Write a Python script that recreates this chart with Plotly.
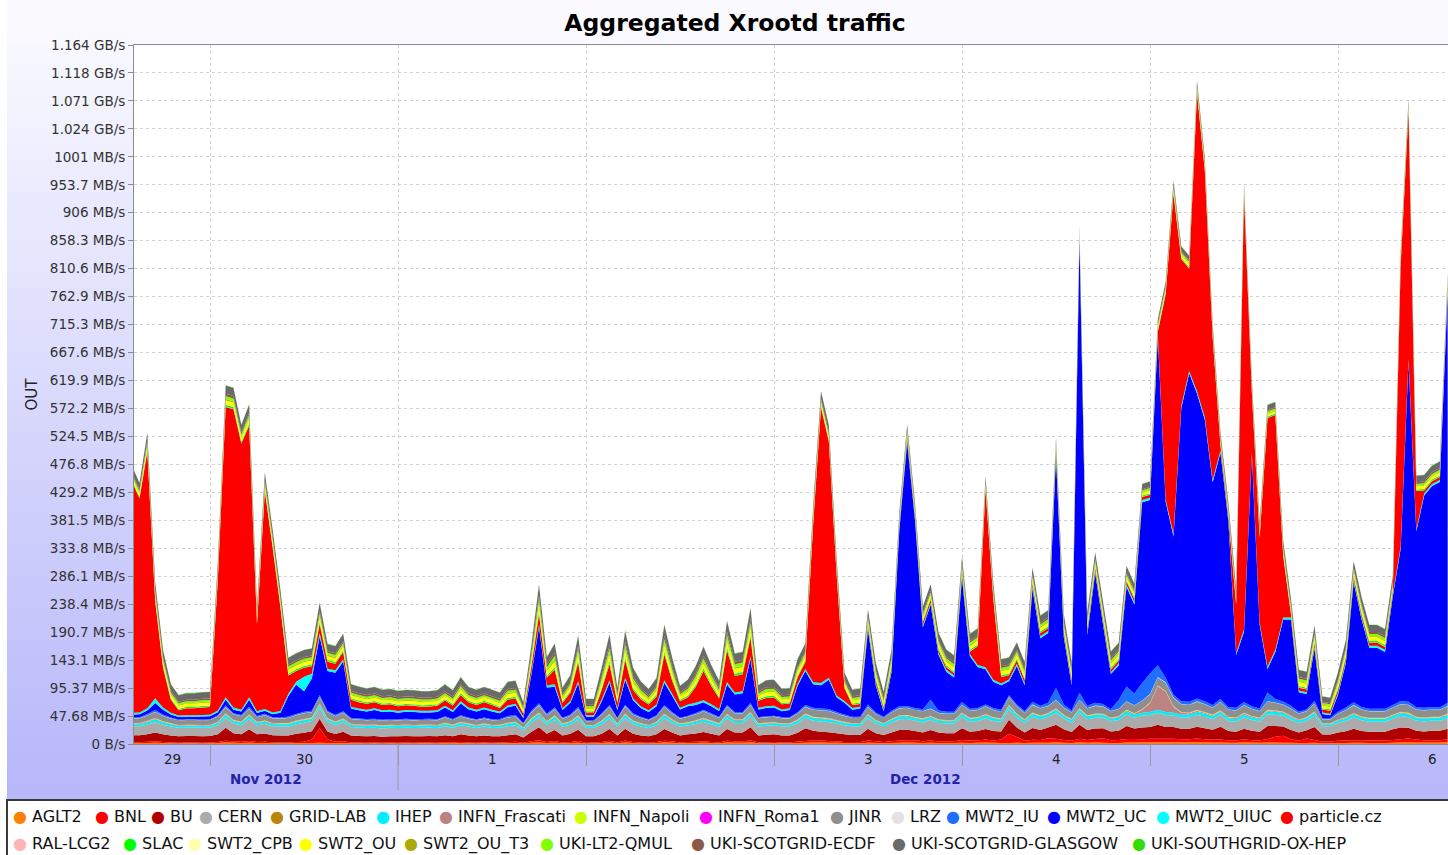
import pandas as pd
import plotly.graph_objects as go

# ---------------- data (MB/s, hourly from 2012-11-29 14:00) ----------------
times = pd.date_range("2012-11-29 14:00", periods=169, freq="h")

AGLT2 = [1.2,1.5,1.8,2.0,1.5,1.2,1.0,1.2,1.2,1.0,1.2,1.5,
 2.5,2.0,1.8,2.2,1.5,1.8,1.5,1.2,1.2,1.5,1.5,1.8,
 2.0,1.5,1.5,1.8,1.2,1.2,1.0,1.2,1.0,1.2,1.0,1.2,
 1.0,1.2,1.2,1.0,1.5,1.2,1.5,1.2,1.0,1.2,1.0,1.2,
 1.5,1.8,1.0,2.0,2.5,1.5,2.0,1.2,1.5,2.2,1.0,1.2,
 1.5,2.5,1.2,2.5,1.5,1.2,1.0,1.5,2.5,2.0,1.2,1.5,
 1.8,2.0,1.5,1.2,2.5,2.0,2.0,3.0,1.2,1.2,1.5,1.2,
 1.2,1.8,2.0,2.5,2.5,2.2,2.0,1.5,1.2,1.2,2.0,1.5,
 1.2,1.5,2.0,2.5,2.2,1.8,2.0,1.5,1.5,1.5,2.0,1.8,
 2.0,2.5,2.0,1.5,1.5,2.0,1.5,2.2,2.0,2.0,3.0,2.0,
 1.5,3.0,2.0,2.5,2.0,1.5,1.8,2.5,2.5,3.0,3.0,3.0,
 3.0,3.0,3.0,3.0,3.5,3.0,2.5,2.5,2.0,2.0,3.0,2.5,
 2.0,2.5,2.5,2.0,2.0,1.5,1.5,2.0,1.2,1.2,1.5,1.8,
 2.0,2.0,1.8,1.8,1.8,2.0,3.0,3.5,2.5,2.5,2.5,2.5,
 3.0]

BNL = [1.5,1.5,2.0,2.5,2.0,1.5,1.2,1.5,1.5,1.2,1.5,2.0,
 3.0,2.5,2.0,3.0,2.0,2.0,1.5,1.5,1.5,2.0,2.5,6.0,
 25.0,6.0,2.5,3.0,1.5,1.5,1.2,1.5,1.2,1.2,1.2,1.5,
 1.2,1.2,1.5,1.2,1.5,1.2,2.0,1.5,1.2,1.5,1.2,1.2,
 1.5,2.0,1.0,2.5,4.0,2.0,3.0,1.5,2.0,3.0,1.2,1.2,
 2.0,3.0,1.5,3.5,2.0,1.5,1.2,2.0,3.0,2.5,1.5,2.0,
 2.0,2.5,2.0,1.5,3.0,2.5,2.5,3.5,1.5,1.5,2.0,1.5,
 1.5,2.5,3.0,4.0,3.5,3.0,2.5,2.0,2.0,2.0,4.0,3.0,
 2.0,3.0,4.0,4.0,4.0,3.0,4.0,3.0,3.0,3.0,5.0,4.0,
 4.0,5.0,4.0,6.0,16.0,10.0,4.0,5.0,5.0,8.0,6.0,5.0,
 4.0,6.0,5.0,6.0,8.0,5.0,5.0,6.0,6.0,5.0,6.0,6.0,
 6.0,6.0,5.0,5.0,6.0,5.0,5.0,5.0,4.0,4.0,5.0,4.0,
 4.0,6.0,10.0,12.0,6.0,4.0,8.0,5.0,3.0,3.0,4.0,4.0,
 4.0,4.0,4.0,4.0,4.0,5.0,5.0,6.0,5.0,4.0,4.0,4.0,
 5.0]

BU = [12,12,13,15,13,12,11,11,11,11,11,13,
 22,14,13,20,13,14,12,12,12,14,15,14,
 16,14,13,16,12,11,11,11,10,11,11,11,
 11,11,11,11,12,11,13,12,11,12,11,11,
 12,13,9,16,22,14,19,12,14,19,11,11,
 14,20,12,20,14,12,11,13,20,15,12,13,
 14,16,14,12,20,15,15,22,12,13,13,12,
 12,15,22,16,15,15,14,13,12,12,20,14,
 12,15,18,18,16,15,18,15,14,14,20,15,
 16,18,16,14,24,16,14,20,17,18,24,18,
 15,24,17,18,17,15,16,22,18,20,20,24,
 20,20,18,18,20,19,17,22,16,15,18,16,
 15,22,18,16,16,14,14,22,12,12,14,16,
 20,16,15,15,15,18,20,18,15,15,16,16,
 18]

CERN = [15,15,16,17,16,15,14,14,14,14,14,15,
 17,16,15,17,15,16,15,15,15,16,17,17,
 18,16,15,16,14,14,14,14,14,14,14,14,
 14,14,14,14,15,14,15,15,14,15,14,14,
 15,15,12,16,17,15,17,15,15,17,14,14,
 16,18,15,18,16,15,14,15,18,16,15,15,
 16,17,16,15,18,16,16,18,15,15,15,15,
 15,16,18,17,17,17,16,15,15,15,18,16,
 15,17,18,18,17,17,17,16,16,16,19,17,
 17,18,17,16,18,17,16,19,18,18,20,18,
 16,20,18,18,18,17,18,20,18,20,20,20,
 20,19,19,19,20,19,18,20,17,17,19,18,
 17,20,19,18,17,16,16,19,14,14,16,17,
 19,18,17,17,17,18,19,18,17,17,17,17,
 18]

GRID_LAB = [0.3,0.3,0.4,0.4,0.3,0.3,0.3,0.3,0.3,0.3,0.3,0.3,
 0.4,0.4,0.3,0.4,0.3,0.3,0.3,0.3,0.3,0.3,0.3,0.3,
 0.4,0.3,0.3,0.3,0.3,0.3,0.2,0.2,0.2,0.2,0.2,0.2,
 0.2,0.2,0.2,0.2,0.3,0.2,0.3,0.2,0.2,0.2,0.2,0.2,
 0.3,0.3,0.2,0.3,0.4,0.3,0.3,0.2,0.3,0.4,0.2,0.2,
 0.3,0.4,0.2,0.4,0.3,0.3,0.2,0.3,0.4,0.3,0.2,0.3,
 0.3,0.3,0.3,0.3,0.4,0.3,0.3,0.4,0.2,0.3,0.3,0.2,
 0.2,0.3,0.3,0.3,0.3,0.3,0.3,0.3,0.2,0.2,0.3,0.3,
 0.2,0.3,0.3,0.3,0.3,0.3,0.3,0.3,0.3,0.3,0.3,0.3,
 0.3,0.3,0.3,0.3,0.3,0.3,0.3,0.3,0.3,0.3,0.4,0.3,
 0.3,0.4,0.3,0.3,0.3,0.3,0.3,0.4,0.4,0.4,0.4,0.4,
 0.4,0.4,0.4,0.4,0.4,0.4,0.3,0.4,0.3,0.3,0.4,0.3,
 0.3,0.4,0.4,0.3,0.3,0.3,0.3,0.3,0.2,0.2,0.3,0.3,
 0.4,0.3,0.3,0.3,0.3,0.3,0.4,0.4,0.3,0.3,0.3,0.3,
 0.4]

IHEP = [3.5,3.5,4,5,4,3.5,3,3,3,3,3,4,
 5,4,4,5,4,4,3.5,3.5,3.5,4,4,4,
 5,4,4,4,3.5,3.5,3.5,3.5,3.5,3.5,3.5,3.5,
 3.5,3.5,3.5,3.5,4,3.5,4,3.5,3.5,3.5,3.5,3.5,
 4,4,3,4.5,5,4,5,3.5,4,5,3,3,
 4,5,3.5,5,4,3.5,3.5,4,5,4,3.5,3.5,
 4,4.5,4,3.5,5,4,4,5,3.5,3.5,3.5,3.5,
 3.5,4,4.5,4.5,4.5,4.5,4,4,3.5,3.5,4.5,4,
 3.5,4,4.5,4.5,4.5,4.5,4.5,4,4,4,5,4.5,
 4.5,5,4.5,4,5,4.5,4,5,4.5,4.5,5,4.5,
 4,5,4.5,5,4.5,4,4.5,5,5,5,5,5,
 5,5,5,5,5,5,4.5,5,4.5,4.5,5,4.5,
 4.5,5,5,4.5,4.5,4,4,5,3,3,4,4.5,
 5,4.5,4.5,4.5,4.5,4.5,5,5,4.5,4.5,4.5,4.5,
 5]

INFN_Frascati = [1,1,1.2,1.2,1,1,0.9,0.9,0.9,0.9,0.9,1,
 1.2,1.1,1,1.2,1,1,1,1,1,1,1.1,1,
 1.3,1.1,1,1.1,1,1,0.9,0.9,0.9,0.9,0.9,0.9,
 0.9,0.9,0.9,0.9,1,0.9,1,0.9,0.9,0.9,0.9,0.9,
 1,1,0.8,1.1,1.4,1.1,1.2,0.9,1,1.2,0.8,0.8,
 1.1,1.3,0.9,1.3,1.1,1,0.9,1,1.3,1.1,0.9,1,
 1.1,1.2,1.1,1,1.3,1.1,1.1,1.3,0.9,1,1,0.9,
 0.9,1,1.1,1.1,1.1,1.1,1,1,0.9,0.9,1.1,1,
 0.9,1,1.1,1.1,1.1,1.1,1.1,1,1,1,1.2,1,
 1,1.1,1,1,1,1,1,1.1,1,1,1.3,1,
 1,1.3,1,1.1,1,1,1,1.5,1.5,5,15,40,
 35,10,3,2,2,2,1.5,1.5,1.5,1.5,1.5,1.5,
 1.2,1.3,1.3,1.2,1.2,1,1,1.2,0.8,0.8,1,1.1,
 1.2,1.1,1.1,1.1,1.1,1.1,1.2,1.3,1.1,1.1,1.1,1.1,
 1.2]

INFN_Napoli = [0.8,0.8,0.9,1,0.9,0.8,0.7,0.7,0.7,0.7,0.7,0.8,
 1,0.9,0.9,1,0.8,0.9,0.8,0.8,0.8,0.9,0.9,0.9,
 1,0.9,0.8,0.9,0.8,0.8,0.7,0.7,0.7,0.7,0.7,0.7,
 0.7,0.7,0.7,0.7,0.8,0.7,0.8,0.7,0.7,0.7,0.7,0.7,
 0.8,0.8,0.6,0.9,1.2,0.9,1,0.7,0.8,1,0.6,0.6,
 0.9,1.1,0.7,1.1,0.9,0.8,0.7,0.8,1.1,0.9,0.7,0.8,
 0.9,1,0.9,0.8,1.1,0.9,0.9,1.1,0.7,0.8,0.8,0.7,
 0.7,0.8,0.9,0.9,0.9,0.9,0.8,0.8,0.7,0.7,0.9,0.8,
 0.7,0.8,0.9,0.9,0.9,0.9,0.9,0.8,0.8,0.8,0.9,0.8,
 0.8,0.9,0.8,0.8,0.8,0.8,0.8,0.9,0.8,0.8,1,0.8,
 0.8,1,0.8,0.9,0.8,0.8,0.8,0.9,0.9,0.9,0.9,0.9,
 0.9,0.9,0.9,0.9,1,0.9,0.9,0.9,0.8,0.8,0.9,0.8,
 0.8,0.9,0.9,0.8,0.8,0.7,0.7,0.8,0.6,0.6,0.7,0.8,
 0.9,0.8,0.8,0.8,0.8,0.8,0.9,1,0.8,0.8,0.8,0.8,
 0.9]

INFN_Roma1 = [0.2,0.2,0.2,0.3,0.2,0.2,0.2,0.2,0.2,0.2,0.2,0.2,
 0.3,0.2,0.2,0.3,0.2,0.2,0.2,0.2,0.2,0.2,0.2,0.2,
 0.3,0.2,0.2,0.2,0.2,0.2,0.2,0.2,0.1,0.1,0.1,0.1,
 0.1,0.1,0.1,0.1,0.2,0.1,0.2,0.2,0.1,0.2,0.1,0.1,
 0.2,0.2,0.1,0.2,0.3,0.2,0.2,0.1,0.2,0.3,0.1,0.1,
 0.2,0.3,0.1,0.3,0.2,0.2,0.1,0.2,0.3,0.2,0.1,0.2,
 0.2,0.2,0.2,0.2,0.3,0.2,0.2,0.3,0.1,0.2,0.2,0.1,
 0.1,0.2,0.2,0.2,0.2,0.2,0.2,0.2,0.1,0.1,0.2,0.2,
 0.1,0.2,0.2,0.2,0.2,0.2,0.2,0.2,0.2,0.2,0.2,0.2,
 0.2,0.2,0.2,0.2,0.2,0.2,0.2,0.2,0.2,0.2,0.3,0.2,
 0.2,0.3,0.2,0.2,0.2,0.2,0.2,0.3,0.3,0.3,0.3,0.3,
 0.3,0.3,0.3,0.3,0.3,0.3,0.2,0.3,0.2,0.2,0.3,0.2,
 0.2,0.3,0.3,0.2,0.2,0.2,0.2,0.2,0.1,0.1,0.2,0.2,
 0.3,0.2,0.2,0.2,0.2,0.2,0.3,0.3,0.2,0.2,0.2,0.2,
 0.3]

JINR = [8,8,9,10,9,8,8,8,8,8,8,9,
 10,9,9,10,8,9,8,8,9,9,10,9,
 11,10,9,10,8,8,8,8,8,8,8,8,
 8,8,8,8,9,8,9,8,8,8,8,8,
 9,9,7,10,12,10,11,8,9,11,7,7,
 10,12,8,12,10,9,8,9,12,10,8,9,
 10,11,10,9,12,10,10,12,9,9,9,9,
 9,10,11,12,12,12,11,10,9,9,12,10,
 9,11,12,12,12,12,12,11,11,11,13,12,
 12,13,12,11,13,12,11,13,12,12,14,12,
 11,14,12,13,12,11,12,14,13,14,14,14,
 14,14,13,13,14,13,12,14,12,12,13,12,
 11,14,13,12,12,10,10,13,7,7,10,12,
 13,12,11,11,11,12,13,13,12,12,12,12,
 13]

LRZ = [0.4,0.4,0.5,0.5,0.4,0.4,0.4,0.4,0.4,0.4,0.4,0.4,
 0.5,0.5,0.4,0.5,0.4,0.4,0.4,0.4,0.4,0.4,0.4,0.4,
 0.5,0.4,0.4,0.4,0.4,0.4,0.3,0.3,0.3,0.3,0.3,0.3,
 0.3,0.3,0.3,0.3,0.4,0.3,0.4,0.4,0.3,0.4,0.3,0.3,
 0.4,0.4,0.3,0.4,0.6,0.4,0.5,0.3,0.4,0.5,0.3,0.3,
 0.4,0.5,0.3,0.5,0.4,0.4,0.3,0.4,0.5,0.4,0.3,0.4,
 0.4,0.5,0.4,0.4,0.5,0.4,0.4,0.5,0.3,0.4,0.4,0.3,
 0.3,0.4,0.4,0.4,0.4,0.4,0.4,0.4,0.3,0.3,0.4,0.4,
 0.3,0.4,0.4,0.4,0.4,0.4,0.4,0.4,0.4,0.4,0.5,0.4,
 0.4,0.5,0.4,0.4,0.4,0.4,0.4,0.5,0.4,0.4,0.5,0.4,
 0.4,0.5,0.4,0.5,0.4,0.4,0.4,0.5,0.5,0.5,0.5,0.5,
 0.5,0.5,0.5,0.5,0.5,0.5,0.4,0.5,0.4,0.4,0.5,0.4,
 0.4,0.5,0.5,0.4,0.4,0.4,0.4,0.4,0.3,0.3,0.4,0.4,
 0.5,0.4,0.4,0.4,0.4,0.4,0.5,0.5,0.4,0.4,0.4,0.4,
 0.5]

MWT2_IU = [1.5,1.5,2,3,2,1.5,1.2,1.2,1.2,1.2,1.2,2,
 3,2,2,3,1.5,2,1.5,1.5,2,2,2,2,
 3,2,2,2,1.5,1.5,1.5,1.5,1.5,1.5,1.5,1.5,
 1.5,1.5,1.5,1.5,1.5,1.5,2,1.5,1.5,1.5,1.5,1.5,
 2,2,1,2.5,3,2,2.5,1.5,2,2.5,1.2,1.2,
 2,2.5,1.5,2.5,2,1.5,1.5,2,2.5,2,1.5,1.5,
 2,2,2,1.5,2.5,2,2,3,1.5,1.5,1.5,1.5,
 1.5,2,3,3,3,3,2.5,2,1.5,1.5,4,2.5,
 1.5,2.5,3,3,3,3,15,4,3,3,5,3,
 3,3,3,3,3,3,3,5,4,5,20,5,
 3,12,4,5,4,3,15,25,20,30,35,20,
 8,5,5,5,5,5,4,5,4,4,5,4,
 4,15,6,5,5,3,3,5,2,2,3,4,
 5,4,4,4,4,4,5,5,4,4,4,4,
 5]

MWT2_UC = [5,5,6,12,8,5,4,4,4,5,5,5,
 10,6,6,12,5,5,5,8,35,50,35,55,
 100,68,72,85,16,14,13,15,13,13,11,12,
 12,11,11,12,15,12,20,14,13,14,13,10,
 15,16,8,60,130,45,35,13,20,40,6,6,
 20,38,13,42,22,15,12,15,38,28,14,16,
 14,13,12,10,35,30,32,75,13,14,14,10,
 12,45,58,40,40,50,25,20,12,14,128,46,
 9,66,300,450,320,140,162,95,68,58,212,90,
 70,60,45,42,24,66,44,193,115,119,395,115,
 43,770,121,221,136,60,59,170,152,308,296,560,
 300,270,500,560,520,480,380,420,318,90,120,430,
 143,40,80,140,147,33,26,89,7,5,29,76,
 205,150,104,104,97,186,260,580,300,362,377,384,
 700]

MWT2_UIUC = [3,3,4,8,4,3,2.5,2.5,2.5,2.5,2.5,3,
 4,3.5,3,4,3,3,3,3,4,5,25,8,
 6,4,4,4,3,3,3,3,3,3,3,3,
 3,3,3,3,3,3,3.5,3,3,3,3,3,
 3,3,2.5,3.5,4,3.5,4,3,3,4,2.5,2.5,
 3.5,4,3,4,3.5,3,3,3,4,3.5,3,3,
 3.5,3.5,3.5,3,4,3.5,3.5,4,3,3,3,3,
 3,3.5,3.5,3.5,3.5,3.5,3,3,3,3,3.5,3,
 3,3.5,3.5,3.5,3.5,3.5,3.5,3.5,3.5,3.5,4,3.5,
 3.5,3.5,3.5,3,3,3.5,3,4,3.5,3.5,4,3.5,
 3,4,3.5,3.5,3.5,3,3.5,4,4,4,4,4,
 4,4,4,4,4,4,4,4,3.5,3.5,4,3.5,
 3.5,4,4,3.5,3.5,3,3,3.5,2.5,2.5,3,3.5,
 4,3.5,3.5,3.5,3.5,3.5,4,4,3.5,3.5,3.5,3.5,
 4]

particle_cz = [395,365,438,166,68,22,9,12,12,13,13,223,
 495,509,454,463,148,372,281,175,31,18,15,13,
 15,12,11,12,12,11,10,10,9,9,8,8,
 8,7,7,8,9,8,11,9,8,9,8,6,
 10,9,5,10,18,13,25,9,14,32,5,5,
 16,28,9,30,14,12,10,14,44,22,11,12,
 27,50,31,18,54,28,29,32,12,14,14,9,
 8,11,12,269,470,403,205,22,5,5,4,5,
 4,4,5,5,4,5,5,4,4,4,5,4,
 32,303,137,11,7,6,6,5,5,5,6,5,
 5,4,5,5,5,5,5,5,5,5,5,5,
 350,580,250,175,508,420,243,7,6,82,740,102,
 145,424,400,105,5,5,5,5,5,5,5,5,
 5,4,5,5,5,5,480,422,65,5,5,5,
 6]

RAL_LCG2 = [0.6,0.6,0.7,0.7,0.6,0.6,0.5,0.5,0.5,0.5,0.5,0.6,
 0.8,0.7,0.7,0.8,0.6,0.7,0.6,0.6,0.6,0.6,0.7,0.6,
 0.8,0.7,0.6,0.7,0.6,0.6,0.5,0.5,0.5,0.5,0.5,0.5,
 0.5,0.5,0.5,0.5,0.6,0.5,0.6,0.5,0.5,0.5,0.5,0.5,
 0.6,0.6,0.4,0.7,1.0,0.7,0.8,0.5,0.6,0.8,0.4,0.4,
 0.7,0.9,0.5,0.9,0.7,0.6,0.5,0.6,0.9,0.7,0.5,0.6,
 0.7,0.8,0.7,0.6,0.9,0.7,0.7,0.9,0.5,0.6,0.6,0.5,
 0.5,0.6,0.7,0.7,0.7,0.7,0.6,0.6,0.5,0.5,0.7,0.6,
 0.5,0.6,0.7,0.7,0.7,0.7,0.7,0.6,0.6,0.6,0.7,0.6,
 0.6,0.7,0.6,0.6,0.6,0.6,0.6,0.7,0.6,0.6,0.8,0.6,
 0.6,0.8,0.6,0.7,0.6,0.6,0.6,0.7,0.7,0.7,0.7,0.7,
 0.7,0.7,0.7,0.7,0.8,0.7,0.7,0.7,0.6,0.6,0.7,0.6,
 0.6,0.7,0.7,0.6,0.6,0.5,0.5,0.6,0.4,0.4,0.5,0.6,
 0.7,0.6,0.6,0.6,0.6,0.6,0.7,0.8,0.6,0.6,0.6,0.6,
 0.7]

SLAC = [2,2,2.5,2.5,2.5,2,2,2,2,2,2,2.5,
 3,3,2.5,3,2.5,2.5,2.5,2.5,2.5,2.5,2.5,2.5,
 3,2.5,2.5,2.5,2,2,2,2,2,2,2,2,
 2,2,2,2,2,2,2.5,2,2,2,2,2,
 2.5,2.5,1.5,3,4,3,3.5,2,2.5,3.5,1.5,1.5,
 3,4,2,4,3,2.5,2,2.5,4,3,2,2.5,
 3,3.5,3,2.5,4,3,3,4,2,2.5,2.5,2,
 2,2.5,2.5,2.5,2,2,2,2,2,2,2,2.5,
 2,2.5,2,2,2,2,2,2.5,2.5,2.5,2,2.5,
 2.5,2,2,2.5,2.5,2.5,2.5,2,2.5,2.5,2,2.5,
 2.5,1.5,2.5,2,2.5,2.5,2.5,2,2,2,2,2,
 2,2,2,2,2,2,2,2,2,2,2,2,
 2,2,2,2,2,2.5,2.5,2.5,2,2,2.5,2.5,
 2,2.5,2.5,2.5,2.5,2,2,2,2,2,2,2,
 2]

SWT2_CPB = [0.6,0.6,0.6,0.7,0.6,0.6,0.5,0.5,0.5,0.6,0.5,0.6,
 0.7,0.7,0.6,0.7,0.6,0.6,0.6,0.6,0.6,0.6,0.6,0.6,
 0.7,0.6,0.6,0.6,0.5,0.5,0.5,0.5,0.5,0.5,0.5,0.5,
 0.5,0.5,0.5,0.5,0.6,0.5,0.6,0.5,0.5,0.5,0.5,0.5,
 0.6,0.6,0.4,0.7,0.9,0.6,0.8,0.5,0.6,0.8,0.4,0.4,
 0.7,0.8,0.5,0.8,0.7,0.6,0.5,0.6,0.8,0.7,0.5,0.6,
 0.7,0.7,0.7,0.6,0.8,0.7,0.7,0.8,0.5,0.6,0.6,0.5,
 0.5,0.6,0.6,0.6,0.6,0.6,0.6,0.5,0.5,0.5,0.6,0.6,
 0.5,0.6,0.5,0.5,0.5,0.5,0.5,0.6,0.6,0.6,0.5,0.6,
 0.6,0.5,0.6,0.6,0.6,0.6,0.6,0.5,0.6,0.6,0.5,0.6,
 0.6,0.4,0.6,0.5,0.6,0.6,0.6,0.5,0.5,0.5,0.5,0.5,
 0.5,0.5,0.5,0.5,0.5,0.5,0.5,0.5,0.5,0.5,0.5,0.5,
 0.5,0.5,0.5,0.5,0.5,0.6,0.6,0.6,0.5,0.5,0.6,0.6,
 0.5,0.6,0.6,0.6,0.6,0.5,0.5,0.5,0.5,0.5,0.5,0.5,
 0.5]

SWT2_OU = [5,5,6,6,6,5,5,5,5,5,5,6,
 7,7,6,7,6,6,6,6,6,6,6,6,
 7,6,6,6,5,5,5,5,5,5,5,5,
 5,5,5,5,5,5,6,5,5,5,5,5,
 6,6,4,7,10,7,9,5,6,9,4,4,
 8,10,5,10,8,6,5,6,10,8,5,6,
 7,8,7,6,10,8,8,10,5,6,6,5,
 5,6,6,6,5,5,5,5,5,5,5,6,
 5,6,4,4,4,5,5,6,6,6,5,6,
 6,4,5,6,6,6,6,5,6,6,4,6,
 6,3,6,5,6,6,6,5,5,4,4,4,
 4,4,4,4,4,4,4,4,4,5,4,4,
 5,4,4,5,5,6,6,6,4,4,6,6,
 5,6,6,6,6,5,4,4,5,5,5,5,
 4]

SWT2_OU_T3 = [1.2,1.2,1.5,1.5,1.5,1.2,1.2,1.2,1.2,1.2,1.2,1.5,
 1.8,1.8,1.5,1.8,1.5,1.5,1.5,1.5,1.5,1.5,1.5,1.5,
 1.8,1.5,1.5,1.5,1.2,1.2,1.2,1.2,1.2,1.2,1.2,1.2,
 1.2,1.2,1.2,1.2,1.2,1.2,1.5,1.2,1.2,1.2,1.2,1.2,
 1.5,1.5,1,1.8,2.5,1.8,2.2,1.2,1.5,2.2,1,1,
 1.8,2.5,1.2,2.5,1.8,1.5,1.2,1.5,2.5,1.8,1.2,1.5,
 1.8,2,1.8,1.5,2.5,1.8,1.8,2.5,1.2,1.5,1.5,1.2,
 1.2,1.5,1.5,1.5,1.2,1.2,1.2,1.2,1.2,1.2,1.2,1.5,
 1.2,1.5,1.2,1.2,1.2,1.2,1.2,1.5,1.5,1.5,1.2,1.5,
 1.5,1.2,1.2,1.5,1.5,1.5,1.5,1.2,1.5,1.5,1.2,1.5,
 1.5,1,1.5,1.2,1.5,1.5,1.5,1.2,1.2,1.2,1.2,1.2,
 1.2,1.2,1.2,1.2,1.2,1.2,1.2,1.2,1.2,1.2,1.2,1.2,
 1.2,1.2,1.2,1.2,1.2,1.5,1.5,1.5,1.2,1.2,1.5,1.5,
 1.2,1.5,1.5,1.5,1.5,1.2,1.2,1.2,1.2,1.2,1.2,1.2,
 1.2]

UKI_LT2_QMUL = [3,3,4,4,4,3,3,3,3,3,3,4,
 5,5,4,5,4,4,4,4,4,4,4,4,
 5,4,4,4,3,3,3,3,3,3,3,3,
 3,3,3,3,3,3,4,3,3,3,3,3,
 4,4,2,5,8,5,7,3,4,7,3,3,
 6,8,3,8,6,4,3,4,8,6,3,4,
 5,6,5,4,8,6,6,8,3,4,4,3,
 3,4,4,4,3,3,3,3,3,3,3,4,
 3,4,3,3,3,3,3,4,4,4,3,4,
 4,3,3,4,4,4,4,3,4,4,3,4,
 4,2,4,3,4,4,4,3,3,3,3,3,
 3,3,3,3,3,3,3,3,3,3,3,3,
 3,3,3,3,3,4,4,4,3,3,4,4,
 3,4,4,4,4,3,3,3,3,3,3,3,
 3]

UKI_SCOTGRID_ECDF = [3,3,3,3,3,3,2.5,2.5,2.5,2.5,2.5,3,
 4,4,3,4,3,3,3,3,3,3,3,3,
 4,3,3,3,3,3,3,3,3,3,3,3,
 3,3,3,3,3,3,3,3,3,3,3,3,
 3,3,2,4,6,4,5,3,3,5,2.5,2.5,
 4,6,3,6,4,3,3,3,6,4,3,3,
 4,5,4,3,6,4,4,6,3,3,3,3,
 3,3,3,3,3,3,3,3,3,3,3,3,
 3,3,2,2,2,3,3,3,3,3,3,3,
 3,2,3,3,3,3,3,3,3,3,2,3,
 3,2,3,3,3,3,3,3,3,2,2,2,
 2,2,2,2,2,2,2,2,2,3,2,2,
 3,2,2,3,3,3,3,3,2,2,3,3,
 3,3,3,3,3,3,2,2,3,3,3,3,
 2]

UKI_SCOTGRID_GLASGOW = [11,11,13,13,12,11,11,11,11,11,11,12,
 14,14,13,14,12,13,12,12,12,12,12,12,
 14,12,12,13,11,11,11,11,11,11,11,11,
 11,11,11,11,12,11,12,11,11,11,11,11,
 12,12,8,13,18,13,16,11,12,17,10,10,
 14,18,11,18,14,12,11,13,18,15,11,12,
 13,15,13,12,18,14,14,18,11,12,12,11,
 11,13,13,13,12,12,12,11,11,11,11,12,
 11,12,9,8,9,11,11,12,12,12,11,12,
 12,9,12,12,12,12,12,11,12,12,8,12,
 12,6,12,11,12,12,12,11,11,9,9,8,
 8,8,8,8,8,8,9,9,9,12,8,9,
 11,9,9,11,11,12,12,12,9,9,12,12,
 11,12,12,12,12,11,8,8,11,11,11,11,
 8]

UKI_SOUTHGRID_OX_HEP = [0.6,0.6,0.7,0.7,0.6,0.6,0.6,0.6,0.6,0.6,0.6,0.6,
 0.8,0.7,0.7,0.8,0.6,0.7,0.6,0.6,0.6,0.6,0.6,0.6,
 0.7,0.6,0.6,0.6,0.6,0.6,0.5,0.5,0.5,0.5,0.5,0.5,
 0.5,0.5,0.5,0.5,0.6,0.5,0.6,0.5,0.5,0.5,0.5,0.5,
 0.6,0.6,0.4,0.7,1.0,0.7,0.9,0.5,0.6,0.9,0.4,0.4,
 0.7,0.9,0.5,0.9,0.7,0.6,0.5,0.6,0.9,0.7,0.5,0.6,
 0.7,0.8,0.7,0.6,0.9,0.7,0.7,0.9,0.5,0.6,0.6,0.5,
 0.5,0.6,0.6,0.6,0.6,0.6,0.6,0.6,0.5,0.5,0.6,0.6,
 0.5,0.6,0.5,0.5,0.5,0.6,0.6,0.6,0.6,0.6,0.6,0.6,
 0.6,0.5,0.6,0.6,0.6,0.6,0.6,0.6,0.6,0.6,0.5,0.6,
 0.6,0.4,0.6,0.5,0.6,0.6,0.6,0.5,0.5,0.5,0.5,0.5,
 0.5,0.5,0.5,0.5,0.5,0.5,0.5,0.5,0.5,0.6,0.5,0.5,
 0.6,0.5,0.5,0.6,0.6,0.6,0.6,0.6,0.5,0.5,0.6,0.6,
 0.6,0.6,0.6,0.6,0.6,0.6,0.5,0.5,0.6,0.6,0.6,0.6,
 0.5]

# series names (legend order = stacking order, bottom first) and colours
names = ["AGLT2", "BNL", "BU", "CERN", "GRID-LAB", "IHEP", "INFN_Frascati",
         "INFN_Napoli", "INFN_Roma1", "JINR", "LRZ", "MWT2_IU", "MWT2_UC",
         "MWT2_UIUC", "particle.cz", "RAL-LCG2", "SLAC", "SWT2_CPB", "SWT2_OU",
         "SWT2_OU_T3", "UKI-LT2-QMUL", "UKI-SCOTGRID-ECDF",
         "UKI-SCOTGRID-GLASGOW", "UKI-SOUTHGRID-OX-HEP"]
values = [AGLT2, BNL, BU, CERN, GRID_LAB, IHEP, INFN_Frascati, INFN_Napoli,
          INFN_Roma1, JINR, LRZ, MWT2_IU, MWT2_UC, MWT2_UIUC, particle_cz,
          RAL_LCG2, SLAC, SWT2_CPB, SWT2_OU, SWT2_OU_T3, UKI_LT2_QMUL,
          UKI_SCOTGRID_ECDF, UKI_SCOTGRID_GLASGOW, UKI_SOUTHGRID_OX_HEP]
colors = ["#FF8000", "#FF0000", "#B00000", "#ABABAB", "#B8860B", "#00EEFF",
          "#BC8383", "#CCFF00", "#FF00FF", "#8E8E8E", "#E2E2E2", "#1E6EFF",
          "#0000FF", "#00FFFF", "#FF0000", "#FFB4B4", "#00FF00", "#FFFFAA",
          "#FFFF00", "#AAAA00", "#80FF00", "#8B5A44", "#6A6A6A", "#33DD00"]

y_tick_labels = ["0 B/s", "47.68 MB/s", "95.37 MB/s", "143.1 MB/s", "190.7 MB/s",
                 "238.4 MB/s", "286.1 MB/s", "333.8 MB/s", "381.5 MB/s",
                 "429.2 MB/s", "476.8 MB/s", "524.5 MB/s", "572.2 MB/s",
                 "619.9 MB/s", "667.6 MB/s", "715.3 MB/s", "762.9 MB/s",
                 "810.6 MB/s", "858.3 MB/s", "906 MB/s", "953.7 MB/s",
                 "1001 MB/s", "1.024 GB/s", "1.071 GB/s", "1.118 GB/s",
                 "1.164 GB/s"]
day_labels = ["29", "30", "1", "2", "3", "4", "5", "6"]
day_label_pos = ["2012-11-29 19:09", "2012-11-30 12:00", "2012-12-01 12:00",
                 "2012-12-02 12:00", "2012-12-03 12:00", "2012-12-04 12:00",
                 "2012-12-05 12:00", "2012-12-06 12:00"]
month_labels = ["Nov 2012", "Dec 2012"]
month_label_pos = ["2012-11-30 07:09", "2012-12-03 19:24"]
midnights = ["2012-11-30", "2012-12-01", "2012-12-02", "2012-12-03",
             "2012-12-04", "2012-12-05", "2012-12-06"]

for v in values:
    assert len(v) == len(times), len(v)

# ---------------- layout geometry helpers ----------------
W, H = 1448, 855
PL, PT, PB = 134, 45, 744          # plot left / top / bottom in px
PW, PH = W - PL, PB - PT


def X(px):
    return (px - PL) / PW


def Y(py):
    return (PB - py) / PH


fig = go.Figure()

for name, vals, col in zip(names, values, colors):
    fig.add_trace(go.Scatter(
        x=times, y=vals, name=name, stackgroup="out", mode="none",
        fillcolor=col, line=dict(width=0), showlegend=False,
        legendgroup=name,
        hovertemplate="%{x}<br>" + name + ": %{y} MB/s<extra></extra>"))

# legend entries (two rows, like the original legend box); the coloured
# glyph is part of the entry text so it sits right before the label
legend_w = [37, 11, 3, 26, 61, 18, 90, 80, 86, 16, 10, 56, 64, 79, 118,
            65, 20, 66, 60, 91, 106, 156, 195, 240]
for k, (name, col) in enumerate(zip(names, colors)):
    fig.add_trace(go.Scatter(
        x=[None], y=[None], mode="markers",
        name=f'<span style="color:{col}">●</span> {name}', legendgroup=name,
        marker=dict(size=1, color="rgba(0,0,0,0)"),
        legend="legend" if k < 15 else "legend2",
        legendwidth=legend_w[k], showlegend=True, hoverinfo="skip"))

# background gradient outside the plot area + legend box
shapes = []
edges = sorted(set(list(range(0, 801, 16)) + [PT, PB]))
for a, b in zip(edges[:-1], edges[1:]):
    f = ((a + b) / 2) / 800.0
    r = round(252 - 70 * f)
    bl = round(255 - 5 * f)
    col = f"rgb({r},{r},{bl})"
    x1 = PL if (a >= PT and b <= PB) else W + 5
    shapes.append(dict(type="rect", xref="paper", yref="paper",
                       x0=X(7), x1=X(x1), y0=Y(b + 0.6), y1=Y(a),
                       fillcolor=col, line=dict(width=0), layer="below"))
shapes.append(dict(type="rect", xref="paper", yref="paper",
                   x0=X(7), x1=X(W + 10), y0=Y(870), y1=Y(800),
                   fillcolor="white", line=dict(color="#3a3a3a", width=2),
                   layer="below"))
# long separator tick between the months
shapes.append(dict(type="line", xref="x", yref="paper",
                   x0="2012-12-01", x1="2012-12-01", y0=Y(PB), y1=Y(790),
                   line=dict(color="#9a9a9a", width=1)))

annotations = []
for lab, pos in zip(day_labels, day_label_pos):
    annotations.append(dict(text=lab, x=pos, xref="x", y=Y(759), yref="paper",
                            showarrow=False, xanchor="center", yanchor="middle",
                            font=dict(family="DejaVu Sans", size=13.5, color="#222")))
for lab, pos in zip(month_labels, month_label_pos):
    annotations.append(dict(text=lab, x=pos, xref="x", y=Y(779), yref="paper",
                            showarrow=False, xanchor="center", yanchor="middle",
                            font=dict(family="DejaVu Sans", size=13.5,
                                      color="#2323A5", weight="bold")))

x_start = pd.Timestamp("2012-11-30") - pd.Timedelta(hours=(210 - PL) / 188 * 24)
x_end = pd.Timestamp("2012-12-06") + pd.Timedelta(hours=(W - 1338) / 188 * 24)

legend_font = dict(family="DejaVu Sans", size=16, color="#111")
fig.update_layout(
    width=W, height=H,
    margin=dict(l=PL, r=0, t=PT, b=H - PB, autoexpand=False),
    paper_bgcolor="white", plot_bgcolor="white",
    font=dict(family="DejaVu Sans", color="#222"),
    title=dict(text="Aggregated Xrootd traffic", xref="container", yref="container",
               x=735 / W, y=1 - 23 / H, xanchor="center", yanchor="middle",
               font=dict(family="DejaVu Sans", size=23.5, color="black", weight="bold")),
    shapes=shapes, annotations=annotations,
    showlegend=True,
    legend=dict(orientation="h", x=X(-27), xanchor="left", y=Y(816), yanchor="middle",
                font=legend_font, bgcolor="rgba(0,0,0,0)", borderwidth=0,
                itemwidth=30, traceorder="normal"),
    legend2=dict(orientation="h", x=X(-27), xanchor="left", y=Y(843), yanchor="middle",
                 font=legend_font, bgcolor="rgba(0,0,0,0)", borderwidth=0,
                 itemwidth=30, traceorder="normal"),
    hovermode="closest",
)

fig.update_xaxes(type="date", range=[x_start, x_end], tickvals=midnights,
                 showticklabels=False, ticks="outside", ticklen=21,
                 tickcolor="#9a9a9a", showgrid=True, gridcolor="#d2d2d2",
                 griddash="3px,3px", showline=True, linecolor="#8c8c8c",
                 mirror=True, zeroline=False)
fig.update_yaxes(range=[0, 1250e6 / 2 ** 20],
                 tickvals=[k * 50e6 / 2 ** 20 for k in range(len(y_tick_labels))],
                 ticktext=y_tick_labels, ticks="outside", ticklen=5,
                 tickcolor="#8c8c8c",
                 tickfont=dict(family="DejaVu Sans", size=13.5, color="#333"),
                 showgrid=True, gridcolor="#d2d2d2", griddash="3px,3px",
                 showline=True, linecolor="#8c8c8c", mirror=True, zeroline=False,
                 title=dict(text="OUT", standoff=8,
                            font=dict(family="DejaVu Sans", size=15, color="#222")))

fig.write_html("out.html", config={"displayModeBar": False},
               post_script="document.body.style.margin='0';"
                           "document.body.style.overflow='hidden';")
